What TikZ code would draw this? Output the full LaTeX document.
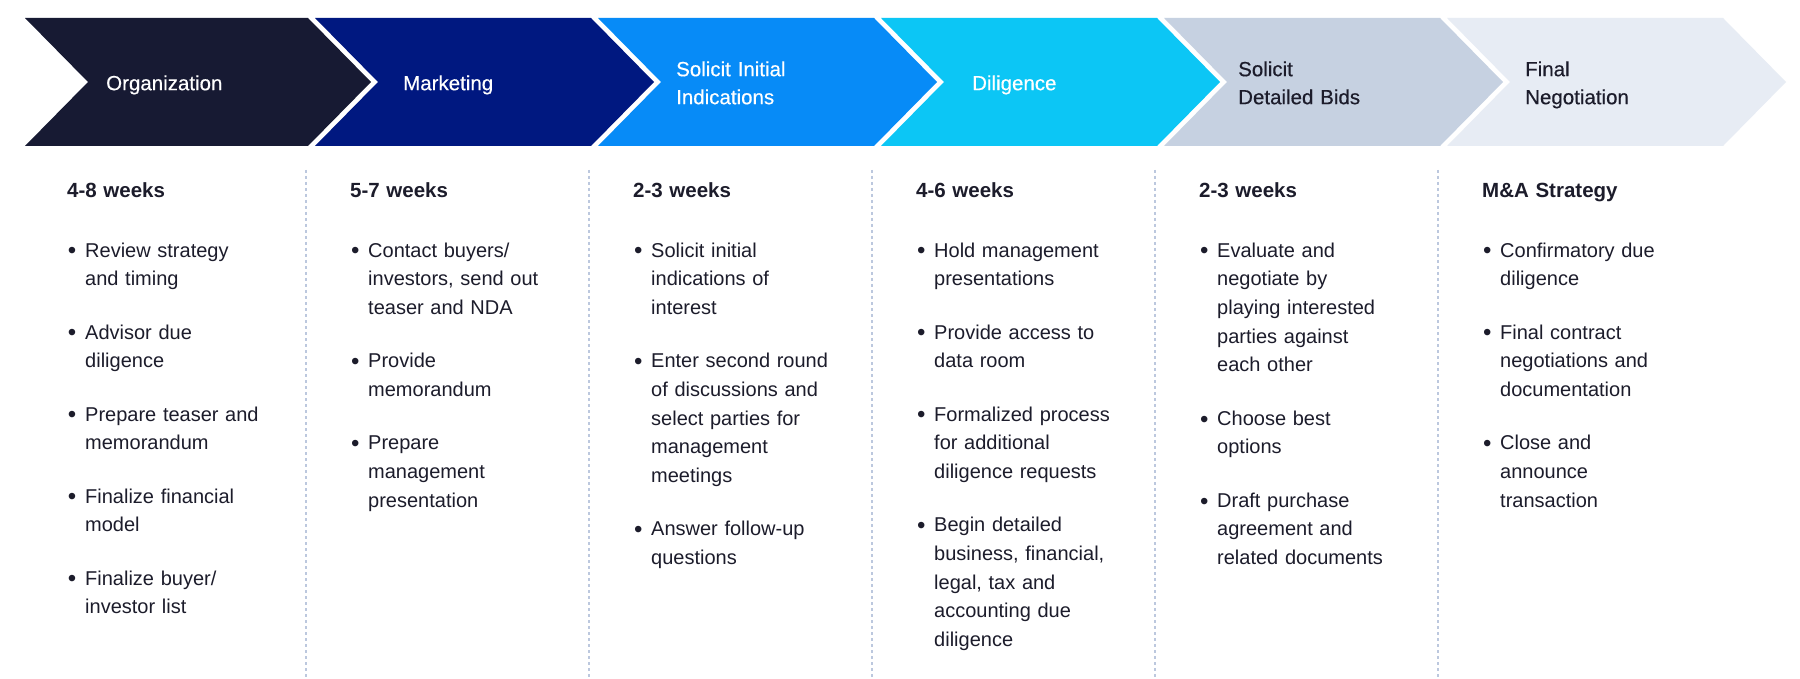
\documentclass[tikz,border=0pt]{standalone}
\usepackage{fontspec}
\setmainfont{Liberation Sans}
\newfontfamily\medfont{Liberation Sans}[FakeBold=0.4]
\definecolor{cA}{HTML}{171A33}
\definecolor{cB}{HTML}{001880}
\definecolor{cC}{HTML}{078BF7}
\definecolor{cD}{HTML}{0CC6F5}
\definecolor{cE}{HTML}{C6D1E1}
\definecolor{cF}{HTML}{E7ECF4}
\definecolor{divc}{HTML}{BCC8DE}
\definecolor{txt}{HTML}{1C1C2B}
\newcommand\hd[1]{\strut{\bfseries\fontsize{20.5}{28.7}\selectfont #1}\par\vspace{31.3pt}}
\newcommand\bigbul{\raisebox{-1.8pt}{\fontsize{24}{24}\selectfont\textbullet}}
\newcommand\bl[1]{{\leftskip=18pt\noindent\llap{\bigbul\hspace{8.8pt}}#1\par}\vspace{24.6pt}}
\newcommand\chev[3]{\fill[#3] (#1,18) -- (#2,18) -- ({#2+63},82) -- (#2,146) -- (#1,146) -- ({#1+63},82) -- cycle;}
\tikzset{
  lab/.style={anchor=north west, inner sep=0pt, text width=240pt, align=left,
    font=\medfont\fontsize{20.5}{28}\selectfont},
  col/.style={anchor=north west, inner sep=0pt, text width=270pt, align=left,
    font=\fontsize{20}{28.7}\selectfont, text=txt,
    execute at begin node={\setlength{\parskip}{0pt}}},
  divline/.style={draw=divc, line width=1.2pt, dash pattern=on 3pt off 3pt}
}
\begin{document}
\begin{tikzpicture}[x=1pt,y=-1pt]
\useasboundingbox (0,0) rectangle (1800,679);
\fill[white] (0,0) rectangle (1800,679);
% chevrons
\chev{25}{308}{cA}
\chev{315}{591}{cB}
\chev{598}{874}{cC}
\chev{881}{1157}{cD}
\chev{1164}{1440}{cE}
\chev{1447}{1723}{cF}
% chevron labels
\node[lab, text=white] (l1) at (106,70.4) {\strut Organization};
\node[lab, text=white] (l2) at (403,70.4) {\strut Marketing};
\node[lab, text=white] (l3) at (676,56.4) {\strut Solicit Initial\\Indications};
\node[lab, text=white] (l4) at (972,70.4) {\strut Diligence};
\node[lab, text=txt] (l5) at (1238,56.4) {\strut Solicit\\Detailed Bids};
\node[lab, text=txt] (l6) at (1525,56.4) {\strut Final\\Negotiation};
% dividers
\foreach \x [count=\i] in {306,589,872,1155,1438}{
  \coordinate (d\i t) at (\x,170);
  \coordinate (d\i b) at (\x,679);
  \draw[divline] (d\i t) -- (d\i b);
}
% columns
\node[col] (c1) at (67,176.9) {\hd{4-8 weeks}
\bl{Review strategy\\and timing}
\bl{Advisor due\\diligence}
\bl{Prepare teaser and\\memorandum}
\bl{Finalize financial\\model}
\bl{Finalize buyer/\\investor list}};
\node[col] (c2) at (350,176.9) {\hd{5-7 weeks}
\bl{Contact buyers/\\investors, send out\\teaser and NDA}
\bl{Provide\\memorandum}
\bl{Prepare\\management\\presentation}};
\node[col] (c3) at (633,176.9) {\hd{2-3 weeks}
\bl{Solicit initial\\indications of\\interest}
\bl{Enter second round\\of discussions and\\select parties for\\management\\meetings}
\bl{Answer follow-up\\questions}};
\node[col] (c4) at (916,176.9) {\hd{4-6 weeks}
\bl{Hold management\\presentations}
\bl{Provide access to\\data room}
\bl{Formalized process\\for additional\\diligence requests}
\bl{Begin detailed\\business, financial,\\legal, tax and\\accounting due\\diligence}};
\node[col] (c5) at (1199,176.9) {\hd{2-3 weeks}
\bl{Evaluate and\\negotiate by\\playing interested\\parties against\\each other}
\bl{Choose best\\options}
\bl{Draft purchase\\agreement and\\related documents}};
\node[col] (c6) at (1482,176.9) {\hd{M\&A Strategy}
\bl{Confirmatory due\\diligence}
\bl{Final contract\\negotiations and\\documentation}
\bl{Close and\\announce\\transaction}};
\end{tikzpicture}
\end{document}
